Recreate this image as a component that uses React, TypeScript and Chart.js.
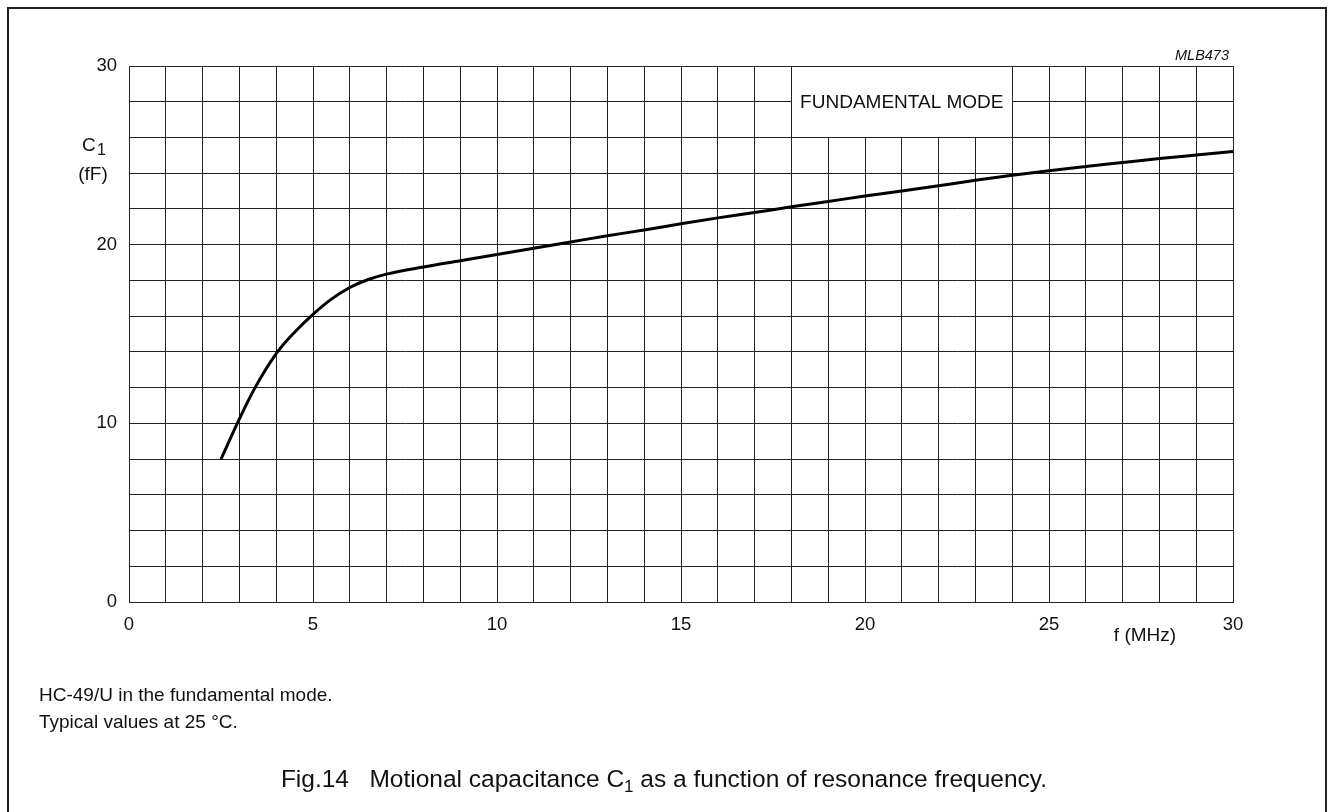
import React, { useEffect, useRef } from "react";
import { Chart, registerables } from "chart.js";

Chart.register(...registerables);

const freqMHz = [2.5, 3, 3.4, 4, 4.5, 5, 5.5, 6, 6.5, 7, 8, 9, 10, 11, 12, 13, 14, 15, 16, 17, 18, 19, 20, 21, 22, 23, 24, 25, 26, 27, 28, 29, 30];
const c1fF = [8.0, 10.25, 11.9, 13.9, 15.1, 16.1, 16.95, 17.6, 18.05, 18.35, 18.75, 19.1, 19.45, 19.8, 20.15, 20.5, 20.82, 21.17, 21.5, 21.8, 22.12, 22.42, 22.72, 23.0, 23.3, 23.6, 23.88, 24.14, 24.38, 24.6, 24.82, 25.02, 25.22];
const xLabelTicks = [0, 5, 10, 15, 20, 25, 30];
const yLabelTicks = [0, 10, 20, 30];
const modeBox = { x0: 18, x1: 24, y0: 26, y1: 30, label: "FUNDAMENTAL MODE" };

const FONT = '"Liberation Sans", Arial, Helvetica, sans-serif';
const GRID = "#222";

const annotations = {
  id: "annotations",
  beforeDatasetsDraw(chart: any) {
    const { ctx, scales } = chart;
    const xs = scales.x;
    const ys = scales.y;
    const l = xs.getPixelForValue(modeBox.x0);
    const r = xs.getPixelForValue(modeBox.x1);
    const t = ys.getPixelForValue(modeBox.y1);
    const b = ys.getPixelForValue(modeBox.y0);
    ctx.save();
    ctx.fillStyle = "#fff";
    ctx.fillRect(l, t, r - l, b - t);
    ctx.strokeStyle = GRID;
    ctx.lineWidth = 1;
    ctx.strokeRect(Math.round(l) + 0.5, Math.round(t) + 0.5, Math.round(r - l), Math.round(b - t));
    ctx.fillStyle = "#111";
    ctx.font = `19px ${FONT}`;
    ctx.textAlign = "center";
    ctx.textBaseline = "middle";
    ctx.fillText(modeBox.label, (l + r) / 2, (t + b) / 2 + 1);
    ctx.restore();
  },
  afterDraw(chart: any) {
    const { ctx } = chart;
    ctx.save();
    // outer frame
    ctx.strokeStyle = "#222";
    ctx.lineWidth = 2;
    ctx.strokeRect(8, 8, 1318, 900);
    ctx.fillStyle = "#111";
    ctx.textBaseline = "alphabetic";
    // MLB473
    ctx.font = `italic 14.5px ${FONT}`;
    ctx.textAlign = "right";
    ctx.fillText("MLB473", 1229, 60);
    // y axis title
    ctx.textAlign = "left";
    ctx.font = `19px ${FONT}`;
    ctx.fillText("C", 82, 151);
    ctx.font = `16px ${FONT}`;
    ctx.fillText("1", 97, 155);
    ctx.font = `19px ${FONT}`;
    ctx.textAlign = "center";
    ctx.fillText("(fF)", 93, 180);
    // x axis title
    ctx.fillText("f (MHz)", 1145, 641);
    // footnotes
    ctx.textAlign = "left";
    ctx.fillText("HC-49/U in the fundamental mode.", 39, 701);
    ctx.fillText("Typical values at 25 \u00B0C.", 39, 728);
    // caption
    const partA = "Fig.14   Motional capacitance C";
    const sub = "1";
    const partB = " as a function of resonance frequency.";
    ctx.font = `24.5px ${FONT}`;
    const wA = ctx.measureText(partA).width;
    const wB = ctx.measureText(partB).width;
    ctx.font = `17px ${FONT}`;
    const wS = ctx.measureText(sub).width;
    const total = wA + wS + wB;
    let x = 664 - total / 2;
    ctx.font = `24.5px ${FONT}`;
    ctx.fillText(partA, x, 787);
    x += wA;
    ctx.font = `17px ${FONT}`;
    ctx.fillText(sub, x, 792);
    x += wS;
    ctx.font = `24.5px ${FONT}`;
    ctx.fillText(partB, x, 787);
    ctx.restore();
  },
};

export default function App() {
  const canvasRef = useRef<HTMLCanvasElement | null>(null);

  useEffect(() => {
    if (!canvasRef.current) return;
    const points = freqMHz.map((f, i) => ({ x: f, y: c1fF[i] }));
    const chart = new Chart(canvasRef.current, {
      type: "line",
      data: {
        datasets: [
          {
            data: points,
            borderColor: "#000",
            borderWidth: 3,
            pointRadius: 0,
            fill: false,
            cubicInterpolationMode: "monotone",
          },
        ],
      },
      options: {
        animation: false,
        responsive: false,
        maintainAspectRatio: false,
        layout: { padding: { left: 0, right: 96, top: 66, bottom: 170 } },
        plugins: { legend: { display: false }, tooltip: { enabled: false }, title: { display: false } },
        scales: {
          x: {
            type: "linear",
            min: 0,
            max: 30,
            afterFit: (axis: any) => {
              axis.height = 40;
            },
            ticks: {
              stepSize: 1,
              autoSkip: false,
              maxRotation: 0,
              padding: 12,
              color: "#111",
              font: { family: FONT, size: 18.5 },
              callback: (v: any) => (xLabelTicks.includes(Number(v)) ? String(v) : ""),
            },
            grid: { color: GRID, lineWidth: 1, drawTicks: false },
            border: { color: GRID, width: 1 },
          },
          y: {
            type: "linear",
            min: 0,
            max: 30,
            afterFit: (axis: any) => {
              axis.width = 129;
            },
            ticks: {
              stepSize: 2,
              autoSkip: false,
              padding: 12,
              color: "#111",
              font: { family: FONT, size: 18.5 },
              callback: (v: any) => (yLabelTicks.includes(Number(v)) ? String(v) : ""),
            },
            grid: { color: GRID, lineWidth: 1, drawTicks: false },
            border: { color: GRID, width: 1 },
          },
        },
      },
      plugins: [annotations],
    });
    return () => chart.destroy();
  }, []);

  return (
    <div style={{ position: "absolute", left: 0, top: 0, width: 1329, height: 812, background: "#fff" }}>
      <canvas ref={canvasRef} width={1329} height={812} style={{ width: 1329, height: 812, display: "block" }} />
    </div>
  );
}
